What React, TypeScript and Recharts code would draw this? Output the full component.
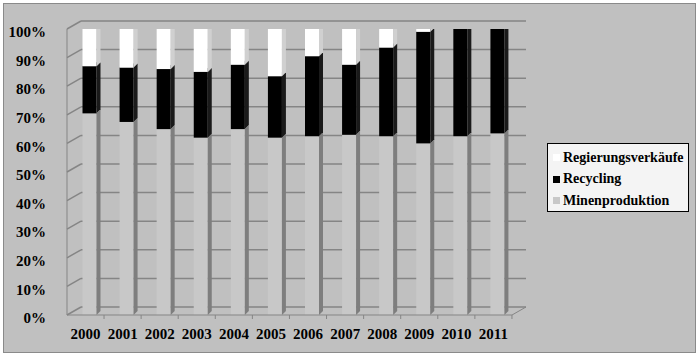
import { BarChart, Bar, XAxis, YAxis, CartesianGrid } from 'recharts'

const years = ['2000', '2001', '2002', '2003', '2004', '2005', '2006', '2007', '2008', '2009', '2010', '2011']
const minenproduktion = [70.5, 67.5, 65, 62, 65, 62, 62.5, 63, 62.5, 60, 62.5, 63.5]
const recycling = [16.5, 19, 21, 23, 22.5, 21.5, 28, 24.5, 31, 39, 37.5, 36.5]
const regierungsverkaeufe = [13, 13.5, 14, 15, 12.5, 16.5, 9.5, 12.5, 6.5, 1, 0, 0]
const yTicks = [0, 10, 20, 30, 40, 50, 60, 70, 80, 90, 100]

const data = years.map((year, i) => ({
  year,
  mine: minenproduktion[i],
  recycling: recycling[i],
  gov: regierungsverkaeufe[i],
}))

// depth of the back wall and of the bars (fake 3D like the Excel original)
const WALL_DX = 14
const WALL_DY = -8
const BAR_D = 4
const BAR_SHIFT = 3.5
const FONT = '"Liberation Serif", "Times New Roman", serif'
const LINE = '#858585'

const faces: Record<string, { front: string; side: string; top: string }> = {
  mine: { front: '#c8c8c8', side: '#7e7e7e', top: '#d6d6d6' },
  recycling: { front: '#000000', side: '#1a1a1a', top: '#2a2a2a' },
  gov: { front: '#ffffff', side: '#d0d0d0', top: '#e6e6e6' },
}

const bar3d = (key: string) => (props: any) => {
  const { x, y, width, height } = props
  if (!height || height <= 0) return <g />
  const c = faces[key]
  const fx = x + BAR_SHIFT
  return (
    <g>
      <rect x={fx} y={y} width={width} height={height} fill={c.front} />
      <polygon
        points={`${fx + width},${y} ${fx + width + BAR_D},${y - BAR_D} ${fx + width + BAR_D},${y + height - BAR_D} ${fx + width},${y + height}`}
        fill={c.side}
      />
      <polygon
        points={`${fx},${y} ${fx + BAR_D},${y - BAR_D} ${fx + width + BAR_D},${y - BAR_D} ${fx + width},${y}`}
        fill={c.top}
      />
    </g>
  )
}

const gridLine = (p: any) => {
  const { x1, y1, x2, index } = p
  const isFloor = index === 0
  return (
    <g key={`grid-${index}`}>
      <line x1={x1} y1={y1} x2={x1 + WALL_DX} y2={y1 + WALL_DY} stroke={LINE} strokeWidth={1.5} />
      <line x1={x1 + WALL_DX} y1={y1 + WALL_DY} x2={x2 + WALL_DX} y2={y1 + WALL_DY} stroke={LINE} strokeWidth={1.5} />
      {isFloor && (
        <line x1={x2} y1={y1} x2={x2 + WALL_DX} y2={y1 + WALL_DY} stroke={LINE} strokeWidth={1} />
      )}
    </g>
  )
}

const YTick = (props: any) => {
  const { x, y, payload } = props
  return (
    <text x={x - 13} y={y + 3} dy="0.35em" textAnchor="end" fontFamily={FONT} fontWeight="bold" fontSize={15} fill="#000">
      {`${payload.value}%`}
    </text>
  )
}

const XTick = (props: any) => {
  const { x, y, payload } = props
  return (
    <g>
      <line x1={x + 18.5} y1={y - 8} x2={x + 18.5} y2={y - 4} stroke={LINE} />
      <text x={x} y={y + 11} dy="0.35em" textAnchor="middle" fontFamily={FONT} fontWeight="bold" fontSize={15} fill="#000">
        {payload.value}
      </text>
    </g>
  )
}

const legendItems = [
  { label: 'Regierungsverkäufe', color: '#ffffff' },
  { label: 'Recycling', color: '#000000' },
  { label: 'Minenproduktion', color: '#c8c8c8' },
]

const LegendBox = () => (
  <div
    style={{
      position: 'absolute',
      left: 547,
      top: 143,
      width: 142,
      height: 69,
      background: '#f4f4f4',
      border: '1px solid #000',
      fontFamily: FONT,
      fontWeight: 'bold',
      fontSize: 14,
      boxSizing: 'border-box',
      padding: '3px 0 0 5px',
    }}
  >
    {legendItems.map((it) => (
      <div key={it.label} style={{ display: 'flex', alignItems: 'center', height: 21.5 }}>
        <span style={{ display: 'inline-block', width: 7, height: 7, background: it.color, marginRight: 3 }} />
        <span>{it.label}</span>
      </div>
    ))}
  </div>
)

export default function App() {
  return (
    <div style={{ position: 'absolute', left: 0, top: 0, width: 699, height: 359, background: '#fff' }}>
      <div
        style={{
          position: 'absolute',
          left: 3,
          top: 3,
          width: 693,
          height: 350,
          boxSizing: 'border-box',
          background: '#c0c0c0',
          border: '1px solid #8a8a8a',
        }}
      />
      <div style={{ position: 'absolute', left: 0, top: 0 }}>
        <BarChart
          width={699}
          height={359}
          data={data}
          margin={{ top: 29, right: 187, left: 0, bottom: 0 }}
          barSize={14}
        >
          <CartesianGrid vertical={false} horizontal={gridLine} />
          <XAxis
            dataKey="year"
            height={44}
            tick={<XTick />}
            tickLine={false}
            axisLine={{ stroke: LINE, strokeWidth: 1 }}
            interval={0}
          />
          <YAxis
            width={67}
            domain={[0, 100]}
            ticks={yTicks}
            interval={0}
            tick={<YTick />}
            tickLine={false}
            axisLine={{ stroke: LINE, strokeWidth: 1 }}
            allowDataOverflow
          />
          <Bar dataKey="mine" stackId="a" name="Minenproduktion" fill="#c8c8c8" shape={bar3d('mine')} isAnimationActive={false} />
          <Bar dataKey="recycling" stackId="a" name="Recycling" fill="#000" shape={bar3d('recycling')} isAnimationActive={false} />
          <Bar dataKey="gov" stackId="a" name="Regierungsverkäufe" fill="#fff" shape={bar3d('gov')} isAnimationActive={false} />
        </BarChart>
      </div>
      <LegendBox />
    </div>
  )
}
